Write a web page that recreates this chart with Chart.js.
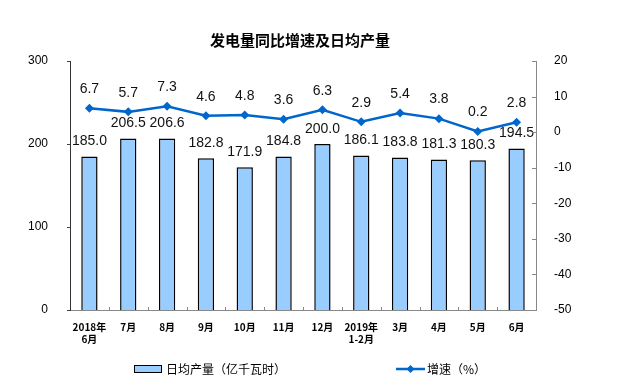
<!DOCTYPE html>
<html>
<head>
<meta charset="utf-8">
<script src="https://cdn.jsdelivr.net/npm/chart.js@4"></script>
<style>
  html, body { margin: 0; padding: 0; background: #fff; }
  #wrap { width: 625px; height: 391px; position: relative; }
</style>
</head>
<body>
<div id="wrap"><canvas id="powerChart"></canvas></div>
<script>
// data
const months = [['2018年', '6月'], '7月', '8月', '9月', '10月', '11月', '12月', ['2019年', '1-2月'], '3月', '4月', '5月', '6月'];
const dailyOutput = [185.0, 206.5, 206.6, 182.8, 171.9, 184.8, 200.0, 186.1, 183.8, 181.3, 180.3, 194.5];
const growthRate = [6.7, 5.7, 7.3, 4.6, 4.8, 3.6, 6.3, 2.9, 5.4, 3.8, 0.2, 2.8];
const leftTicks = [0, 100, 200, 300];
const rightTicks = [-50, -40, -30, -20, -10, 0, 10, 20];

const chartTitle = '发电量同比增速及日均产量';
const barName = '日均产量（亿千瓦时）';
const lineName = '增速（%）';

const barColor = '#99CCFF';
const lineColor = '#0066CC';
const cjk = '"Noto Sans CJK SC", sans-serif';
const latin = '"Liberation Sans", Arial, sans-serif';

// draws value labels, title, legend and tick marks
const decorations = {
    id: 'decorations',
    afterDatasetsDraw(chart) {
        const ctx = chart.ctx;
        const area = chart.chartArea;
        ctx.save();

        // value labels
        ctx.font = '14px ' + latin;
        ctx.fillStyle = '#111';
        ctx.textAlign = 'center';
        ctx.textBaseline = 'middle';
        chart.getDatasetMeta(0).data.forEach((bar, i) => {
            ctx.fillText(dailyOutput[i].toFixed(1), bar.x, bar.y - 15);
        });
        chart.getDatasetMeta(1).data.forEach((pt, i) => {
            ctx.fillText(growthRate[i].toFixed(1), pt.x, pt.y - 19);
        });

        // tick marks
        ctx.strokeStyle = '#444';
        ctx.lineWidth = 1;
        const yl = chart.scales.y;
        leftTicks.forEach(v => {
            const y = Math.round(yl.getPixelForValue(v)) + 0.5;
            ctx.beginPath();
            ctx.moveTo(area.left - 3, y);
            ctx.lineTo(area.left, y);
            ctx.stroke();
        });
        ctx.strokeStyle = '#888';
        const yr = chart.scales.y1;
        rightTicks.forEach(v => {
            const y = Math.round(yr.getPixelForValue(v)) + 0.5;
            ctx.beginPath();
            ctx.moveTo(area.right - 4, y);
            ctx.lineTo(area.right, y);
            ctx.stroke();
        });
        const step = (area.right - area.left) / months.length;
        for (let i = 1; i < months.length; i++) {
            const x = Math.round(area.left + step * i) + 0.5;
            ctx.beginPath();
            ctx.moveTo(x, area.bottom - 3);
            ctx.lineTo(x, area.bottom);
            ctx.stroke();
        }

        // title
        ctx.fillStyle = '#000';
        ctx.font = 'bold 15px ' + cjk;
        ctx.fillText(chartTitle, 300, 40);

        // legend
        ctx.fillStyle = barColor;
        ctx.fillRect(134.5, 365.5, 27, 7);
        ctx.strokeStyle = '#000';
        ctx.strokeRect(134.5, 365.5, 27, 7);
        ctx.fillStyle = '#000';
        ctx.font = '12px ' + cjk;
        ctx.textAlign = 'left';
        ctx.fillText(barName, 166, 369);

        ctx.strokeStyle = lineColor;
        ctx.lineWidth = 2.5;
        ctx.beginPath();
        ctx.moveTo(396, 369);
        ctx.lineTo(425, 369);
        ctx.stroke();
        ctx.fillStyle = lineColor;
        ctx.beginPath();
        ctx.moveTo(410.5, 365);
        ctx.lineTo(414.5, 369);
        ctx.lineTo(410.5, 373);
        ctx.lineTo(406.5, 369);
        ctx.closePath();
        ctx.fill();
        ctx.fillStyle = '#000';
        ctx.fillText(lineName, 427, 369);

        ctx.restore();
    }
};

new Chart(document.getElementById('powerChart'), {
    data: {
        labels: months,
        datasets: [{
            type: 'bar',
            label: barName,
            data: dailyOutput,
            backgroundColor: barColor,
            borderColor: '#000',
            borderWidth: 1.5,
            categoryPercentage: 1,
            barPercentage: 0.42,
            yAxisID: 'y',
            order: 2
        }, {
            type: 'line',
            label: lineName,
            data: growthRate,
            borderColor: lineColor,
            backgroundColor: lineColor,
            borderWidth: 2.5,
            pointStyle: 'rectRot',
            pointRadius: 4.5,
            pointBorderWidth: 0,
            tension: 0,
            yAxisID: 'y1',
            order: 1
        }]
    },
    options: {
        responsive: true,
        maintainAspectRatio: false,
        animation: false,
        layout: { padding: { top: 61, left: 0, right: 0, bottom: 0 } },
        plugins: {
            legend: { display: false },
            title: { display: false },
            tooltip: { enabled: false }
        },
        scales: {
            x: {
                grid: { display: false },
                border: { display: true, color: '#888', width: 1 },
                ticks: {
                    color: '#000',
                    font: { family: cjk, size: 10, weight: 'bold' },
                    padding: 3,
                    maxRotation: 0,
                    autoSkip: false
                },
                afterFit(scale) { scale.height = 81; }
            },
            y: {
                position: 'left',
                min: 0,
                max: 300,
                grid: { display: false },
                border: { display: true, color: '#333', width: 1 },
                ticks: {
                    stepSize: 100,
                    color: '#000',
                    font: { family: latin, size: 12 },
                    padding: 14
                },
                afterFit(scale) { scale.width = 70; }
            },
            y1: {
                position: 'right',
                min: -50,
                max: 20,
                grid: { display: false },
                border: { display: true, color: '#888', width: 1 },
                ticks: {
                    stepSize: 10,
                    color: '#000',
                    font: { family: latin, size: 12 },
                    padding: 10
                },
                afterFit(scale) { scale.width = 89; }
            }
        }
    },
    plugins: [decorations]
});
</script>
</body>
</html>
